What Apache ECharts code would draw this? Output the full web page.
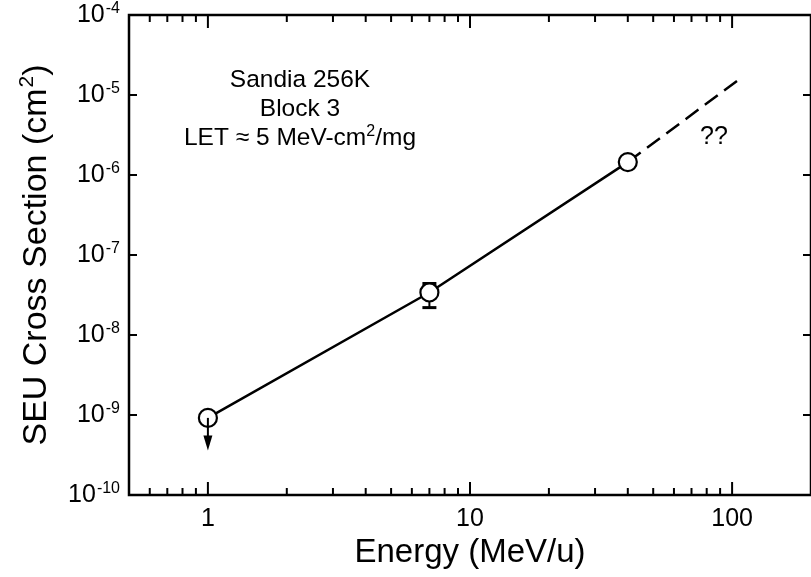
<!DOCTYPE html>
<html>
<head>
<meta charset="utf-8">
<script src="https://cdn.jsdelivr.net/npm/echarts@6/dist/echarts.min.js"></script>
<style>
  html, body { margin: 0; padding: 0; background: #fff; }
  #chart { width: 811px; height: 577px; }
</style>
</head>
<body>
<div id="chart"></div>
<script>
// Measured SEU cross sections vs ion energy
const energy = [1, 7, 40];                       // MeV/u
const crossSection = [9.2e-10, 3.4e-8, 1.45e-6]; // cm^2
const errLow = [null, 2.2e-8, null];
const errHigh = [null, 4.4e-8, null];

// Upper-limit arrow on the 1 MeV/u point
const limitEnergy = [1];
const limitFrom = [9.2e-10];
const limitTo = [3.6e-10];

// Extrapolation beyond the last measurement
const extrapEnergy = [40, 110];
const extrapSigma = [1.45e-6, 1.7e-5];

// Axis ranges and tick values
const xRange = [0.5, 200];
const yRange = [1e-10, 1e-4];
const xMajorTicks = [1, 10, 100];
const xMinorTicks = [0.6, 0.7, 0.8, 0.9, 2, 3, 4, 5, 6, 7, 8, 9, 20, 30, 40, 50, 60, 70, 80, 90];
const yMajorTicks = [1e-9, 1e-8, 1e-7, 1e-6, 1e-5];

const FONT = 'Liberation Sans, Arial, Helvetica, sans-serif';
const chart = echarts.init(document.getElementById('chart'), null, { renderer: 'canvas' });

function tickLine(x1, y1, x2, y2, w) {
  return { type: 'line', shape: { x1, y1, x2, y2 }, style: { stroke: '#000', lineWidth: w || 2 } };
}

const xTickData = xMajorTicks.map(v => [v, yRange[0], 1]).concat(xMinorTicks.map(v => [v, yRange[0], 0]));
const yTickData = yMajorTicks.map(v => [xRange[0], v]);

const errData = energy.map((e, i) => errLow[i] == null ? null : [e, errLow[i], errHigh[i]]).filter(d => d);
const limitData = limitEnergy.map((e, i) => [e, limitFrom[i], limitTo[i]]);

chart.setOption({
  backgroundColor: '#fff',
  animation: false,
  grid: {
    left: 129, top: 15, width: 684, height: 480,
    show: true, borderColor: '#000', borderWidth: 2.5, backgroundColor: 'transparent'
  },
  xAxis: {
    type: 'log', logBase: 10, min: xRange[0], max: xRange[1],
    name: 'Energy (MeV/u)', nameLocation: 'middle', nameGap: 37,
    nameTextStyle: { fontFamily: FONT, fontSize: 33, color: '#000' },
    axisLine: { show: false }, axisTick: { show: false }, splitLine: { show: false },
    axisLabel: {
      margin: 12, fontFamily: FONT, fontSize: 25, color: '#000',
      showMinLabel: false, showMaxLabel: false,
      formatter: v => {
        const e = Math.log10(v);
        return Math.abs(e - Math.round(e)) < 1e-6 ? String(Math.round(v)) : '';
      }
    }
  },
  yAxis: {
    type: 'log', logBase: 10, min: yRange[0], max: yRange[1],
    name: 'SEU Cross Section (cm{sup|2})', nameLocation: 'middle', nameGap: 73, nameRotate: 90,
    nameTextStyle: {
      fontFamily: FONT, fontSize: 34, color: '#000',
      rich: { sup: { fontSize: 21, verticalAlign: 'top', padding: [0, 0, 18, 1], fontFamily: FONT } }
    },
    axisLine: { show: false }, axisTick: { show: false }, splitLine: { show: false },
    axisLabel: {
      margin: 9, fontFamily: FONT, fontSize: 25, color: '#000',
      formatter: v => '10{sup|' + Math.round(Math.log10(v)) + '}',
      rich: { sup: { fontSize: 16, verticalAlign: 'top', padding: [0, 0, 13, 1], fontFamily: FONT, color: '#000' } }
    }
  },
  series: [
    {
      // tick marks on the bottom and top frame edges
      type: 'custom', silent: true, z: 1,
      data: xTickData,
      renderItem: (params, api) => {
        const v = api.value(0);
        const len = api.value(2) ? 13 : 7;
        const b = api.coord([v, yRange[0]]);
        const t = api.coord([v, yRange[1]]);
        return { type: 'group', children: [
          tickLine(b[0], b[1], b[0], b[1] - len),
          tickLine(t[0], t[1], t[0], t[1] + len)
        ] };
      }
    },
    {
      // tick marks on the left and right frame edges
      type: 'custom', silent: true, z: 1,
      data: yTickData,
      renderItem: (params, api) => {
        const v = api.value(1);
        const l = api.coord([xRange[0], v]);
        const r = api.coord([xRange[1], v]);
        return { type: 'group', children: [
          tickLine(l[0], l[1], l[0] + 8, l[1]),
          tickLine(r[0], r[1], r[0] - 8, r[1])
        ] };
      }
    },
    {
      // error bars
      type: 'custom', silent: true, z: 2,
      data: errData,
      renderItem: (params, api) => {
        const lo = api.coord([api.value(0), api.value(1)]);
        const hi = api.coord([api.value(0), api.value(2)]);
        const w = 7;
        return { type: 'group', children: [
          tickLine(lo[0], lo[1], hi[0], hi[1]),
          tickLine(lo[0] - w, lo[1], lo[0] + w, lo[1], 3),
          tickLine(hi[0] - w, hi[1], hi[0] + w, hi[1], 3)
        ] };
      }
    },
    {
      name: 'extrapolation', type: 'line', z: 2,
      data: extrapEnergy.map((e, i) => [e, extrapSigma[i]]),
      symbol: 'none',
      lineStyle: { color: '#000', width: 2.5, type: [16, 8] }
    },
    {
      name: 'measured', type: 'line', z: 3,
      data: energy.map((e, i) => [e, crossSection[i]]),
      symbol: 'circle', symbolSize: 18,
      itemStyle: { color: '#fff', borderColor: '#000', borderWidth: 2.2 },
      lineStyle: { color: '#000', width: 2.5 }
    },
    {
      // upper-limit arrow
      type: 'custom', silent: true, z: 4,
      data: limitData,
      renderItem: (params, api) => {
        const a = api.coord([api.value(0), api.value(1)]);
        const b = api.coord([api.value(0), api.value(2)]);
        const head = 15, half = 4.5;
        return { type: 'group', children: [
          tickLine(a[0], a[1], b[0], b[1] - head + 2),
          { type: 'polygon', shape: { points: [[b[0] - half, b[1] - head], [b[0] + half, b[1] - head], [b[0], b[1]]] }, style: { fill: '#000' } }
        ] };
      }
    }
  ],
  graphic: [
    {
      type: 'text', left: 300 - 150, top: 66,
      style: {
        text: 'Sandia 256K\nBlock 3\nLET ≈ 5 MeV-cm{sup|2}/mg',
        width: 300, align: 'center', x: 150, textAlign: 'center',
        fontFamily: FONT, fontSize: 24.5, lineHeight: 29, fill: '#000',
        rich: { sup: { fontSize: 16, verticalAlign: 'top', padding: [0, 0, 10, 0], fontFamily: FONT, lineHeight: 29 } }
      }
    },
    {
      type: 'text', left: 700, top: 125,
      style: { text: '??', fontFamily: FONT, fontSize: 25, fill: '#000' }
    }
  ]
});
</script>
</body>
</html>
